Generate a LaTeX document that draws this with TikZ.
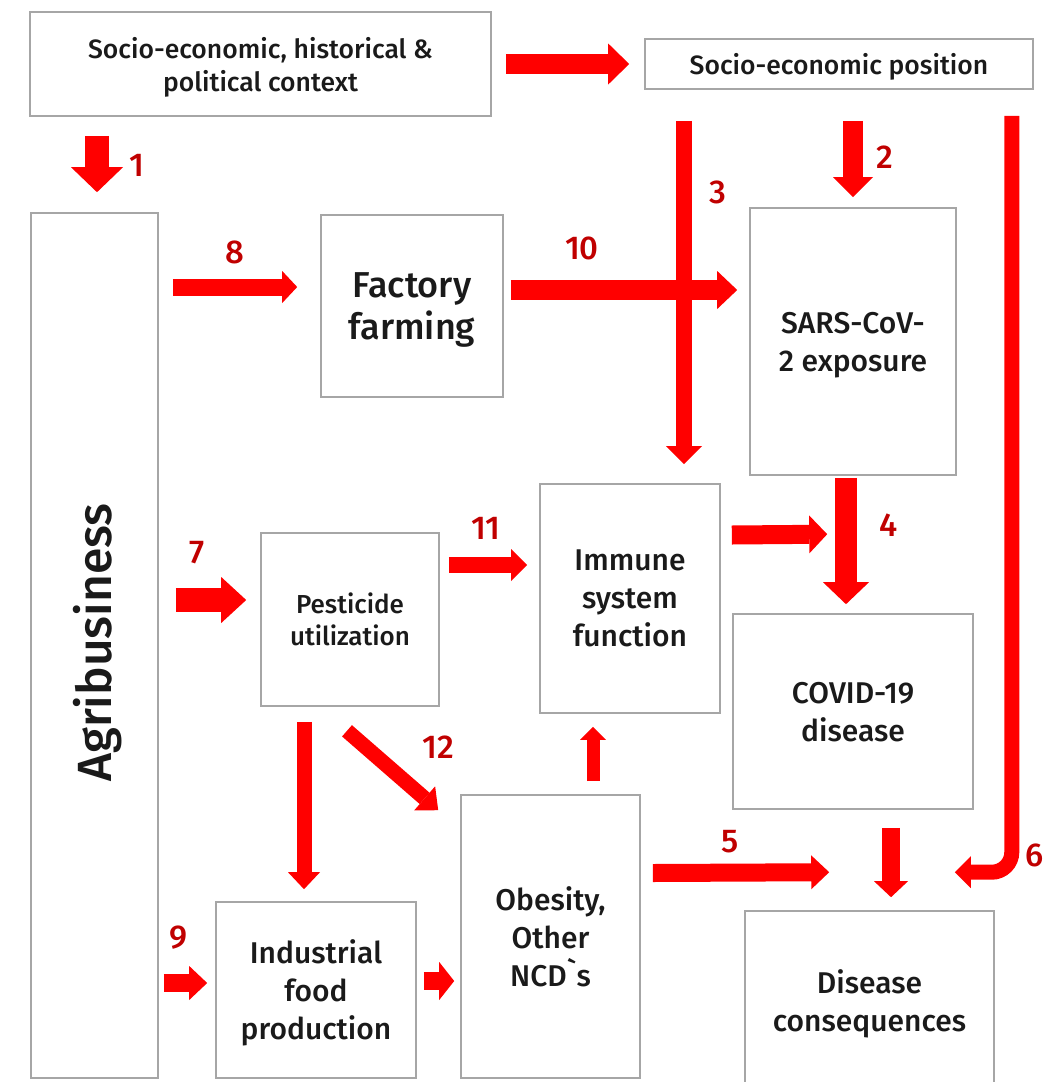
\documentclass[tikz,border=0pt]{standalone}
\usepackage{fontspec}
\setmainfont{Fira Sans}[UprightFont={* Medium}, Ligatures=TeXOff]
\usepackage{tikz}
\usetikzlibrary{arrows.meta,positioning,calc}
\definecolor{arrowred}{HTML}{FF0000}
\definecolor{numred}{HTML}{C00000}
\definecolor{boxgray}{HTML}{A6A6A6}
\definecolor{inkblack}{HTML}{1A1A1A}

\begin{document}
\begin{tikzpicture}[x=1pt, y=-1pt,
  box/.style={draw=boxgray, line width=1.6pt, align=center, inner sep=0pt,
    text depth=0pt, text=inkblack, font=\fontsize{30}{38}\selectfont},
  fat/.style n args={3}{draw=arrowred, line width=#1pt,
    -{Triangle[width=#2pt, length=#3pt, line width=0pt]}},
  num/.style={text=numred, inner sep=0pt, font=\fontsize{33}{33}\selectfont}]
  \useasboundingbox (0,0) rectangle (1043,1082);
  % boxes
  \node[box, minimum width=461, minimum height=104, font=\fontsize{26.5}{33}\selectfont] (ctx) at (260.5,64) {Socio-economic, historical \&\\political context};
  \node[box, minimum width=388, minimum height=50, font=\fontsize{26.5}{33}\selectfont] (sep) at (839,64) {Socio-economic position};
  \node[box, minimum width=127, minimum height=865] (agri) at (94.5,645.5) {};
  \node[rotate=90, inner sep=0pt, text=inkblack, font=\fontsize{48}{48}\selectfont] (agrilabel) at ($(agri.center)+(3,-3)$) {Agribusiness};
  \node[box, minimum width=182, minimum height=182, font=\fontsize{36}{42}\selectfont] (factory) at (412,306) {Factory\\farming};
  \node[box, minimum width=206, minimum height=267] (sars) at (853,341.5) {SARS-CoV-\\2 exposure};
  \node[box, minimum width=178, minimum height=173, font=\fontsize{26}{32}\selectfont] (pest) at (350,619.5) {Pesticide\\utilization};
  \node[box, minimum width=180, minimum height=229] (immune) at (630,598.5) {Immune\\system\\function};
  \node[box, minimum width=240, minimum height=195] (covid) at (853,711.5) {COVID-19\\disease};
  \node[box, minimum width=179, minimum height=283] (obesity) at (550.5,936.5) {Obesity,\\Other\\NCD`s};
  \node[box, minimum width=200, minimum height=176] (industrial) at (316,990) {Industrial\\food\\production};
  \node[box, minimum width=249, minimum height=179] (disease) at (869.5,1000.5) {Disease\\consequences};

  % arrows
  \draw[fat={20}{41}{21}] ($(ctx.east)+(14,0)$) -- ($(sep.west)+(-15,0)$);
  \draw[fat={24}{52}{25}] ($(agri.north |- ctx.south)+(2.5,19)$) -- ($(agri.north)+(2.5,-20)$);
  \draw[fat={20}{40}{20}] ($(sars.north |- sep.south)+(0,31)$) -- ($(sars.north)+(0,-10)$);
  \draw[fat={16}{36}{18}] ($(immune.north |- sep.south)+(54,31)$) -- ($(immune.north)+(54,-19)$);
  \draw[fat={15}{32}{16}, rounded corners=20pt] ($(sep.south east)+(-22,26)$) |- ($(disease.north east)+(-40,-38)$);
  \draw[fat={17}{32}{15}] ($(agri.east |- factory.west)+(14,-19)$) -- ($(factory.west)+(-23,-19)$);
  \draw[fat={20}{38}{20}] ($(factory.east)+(7,-16)$) -- ($(sars.west)+(-12,-51.5)$);
  \draw[fat={24}{46}{25}] ($(agri.east |- pest.west)+(17,-19.5)$) -- ($(pest.west)+(-14,-19.5)$);
  \draw[fat={16}{32}{16}] ($(pest.east)+(9,-54.5)$) -- ($(immune.west)+(-12,-33.5)$);
  \draw[fat={19}{38}{18}] ($(immune.east)+(11,-63.5)$) -- ($(covid.north west)+(95,-79)$);
  \draw[fat={22}{46}{22}] ($(sars.south)+(-7,2)$) -- ($(covid.north)+(-7,-9)$);
  \draw[fat={15}{32}{17}] ($(pest.south)+(-46,15)$) -- ($(industrial.north)+(-12,-12)$);
  \draw[fat={15}{32}{18}] ($(pest.south)+(-3,24)$) -- ($(obesity.north west)+(-22,16)$);
  \draw[fat={13}{26}{13}] ($(obesity.north)+(42.5,-13)$) -- ($(immune.south)+(-37,13)$);
  \draw[fat={18}{34}{18}] ($(obesity.east)+(12,-63.5)$) -- ($(disease.north west)+(85,-38)$);
  \draw[fat={18}{34}{16}] ($(covid.south)+(38,18)$) -- ($(disease.north)+(21.5,-13)$);
  \draw[fat={18}{34}{18}] ($(agri.east |- industrial.west)+(5,-7)$) -- ($(industrial.west)+(-8,-7)$);
  \draw[fat={18}{38}{15}] ($(industrial.east)+(7,-9)$) -- ($(obesity.west)+(-6,44.5)$);

  % numbers
  \node[num] (n1) at (137,165) {1};
  \node[num] (n2) at (885,157) {2};
  \node[num] (n3) at (718,192) {3};
  \node[num] (n4) at (889,525) {4};
  \node[num] (n5) at (730,842) {5};
  \node[num] (n6) at (1035,855) {6};
  \node[num] (n7) at (197,553) {7};
  \node[num] (n8) at (235,252) {8};
  \node[num] (n9) at (178,938) {9};
  \node[num] (n10) at (582,248) {10};
  \node[num] (n11) at (486,528) {11};
  \node[num] (n12) at (438,747) {12};
\end{tikzpicture}
\end{document}
